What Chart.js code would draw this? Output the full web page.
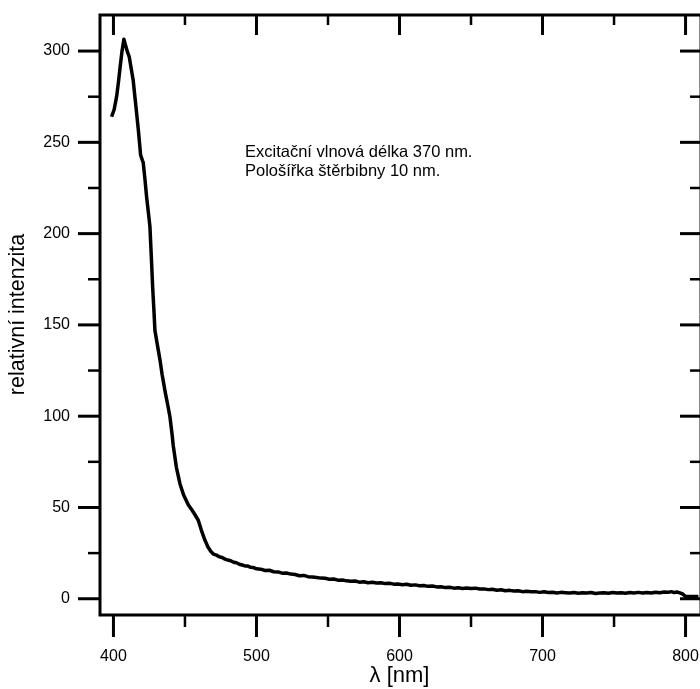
<!DOCTYPE html>
<html>
<head>
<meta charset="utf-8">
<script src="https://cdn.jsdelivr.net/npm/chart.js@4/dist/chart.umd.min.js"></script>
<style>
  html, body { margin: 0; padding: 0; background: #fff; }
  canvas { display: block; }
</style>
</head>
<body>
<canvas id="c" width="700" height="689"></canvas>
<script>
// ---- data ----
const wavelength = [
  398.7, 400.5, 402.2, 403.5, 404.5, 406, 407.3, 408.5, 410, 411, 412.5, 413.8, 415, 416.2, 417.5, 419,
  420.3, 420.8, 422, 423.2, 424.5, 425.5, 426.5, 427.4, 428.3, 429, 430.5, 432.5, 434, 436, 438, 439.5,
  441, 441.8, 444, 446.5, 449, 452.3, 455, 457, 459.3, 461.5, 464, 466, 468,
  470, 472, 474, 476, 478, 480, 482, 484, 486, 488, 490, 492, 494, 496, 498, 500,
  503, 506, 509, 512, 515, 518, 521, 524, 527, 530, 533, 536, 539, 542, 545, 548,
  551, 554, 557, 560, 563, 566, 569, 572, 575, 578, 581, 584, 587, 590, 593, 596,
  599, 602, 605, 608, 611, 614, 617, 620, 623, 626, 629, 632, 635, 638, 641, 644,
  647, 650, 653, 656, 659, 662, 665, 668, 671, 674, 677, 680, 683, 686, 689, 692,
  695, 698, 701, 704, 707, 710, 713, 716, 719, 722, 725, 728, 731, 734, 737, 740,
  743, 746, 749, 752, 755, 758, 761, 764, 767, 770, 773, 776, 779, 782, 785, 788,
  790, 792, 794, 796, 798, 800, 804, 809
];
const intensity = [
  264, 268, 275, 283, 290, 300, 306.5, 303, 299, 297, 290, 284, 275, 266, 256, 243,
  240, 239, 230, 220, 211, 204, 187, 171, 158, 147, 140, 131, 123, 114, 106, 99.7,
  90, 84, 72, 63, 57, 51.5, 48.5, 46, 43, 37.5, 32, 28.5, 26,
  24.4, 23.9, 23.0, 22.6, 21.7, 21.2, 20.8, 20.0, 19.7, 18.9, 18.5, 18.0, 17.9, 17.2, 17.1, 16.4,
  16.2, 15.5, 15.6, 14.8, 14.7, 14.0, 14.1, 13.5, 13.3, 12.6, 12.8, 12.1, 11.9, 11.6, 11.3, 11.2,
  10.7, 10.8, 10.2, 10.3, 9.8, 9.6, 9.7, 9.1, 9.3, 8.8, 9.0, 8.6, 8.8, 8.3, 8.5, 8.0,
  8.1, 7.7, 7.9, 7.4, 7.6, 7.1, 7.3, 6.8, 7.0, 6.5, 6.6, 6.1, 6.3, 5.8, 6.0, 5.6,
  5.9, 5.6, 5.8, 5.3, 5.4, 5.0, 5.2, 4.7, 4.9, 4.4, 4.6, 4.2, 4.4, 3.9, 4.1, 3.8,
  3.9, 3.5, 3.8, 3.4, 3.6, 3.2, 3.5, 3.3, 3.1, 3.4, 3.0, 3.3, 3.1, 3.4, 2.9, 3.2,
  3.3, 3.0, 3.4, 3.1, 3.3, 3.0, 3.4, 3.2, 3.5, 3.1, 3.4, 3.2, 3.6, 3.3, 3.7, 3.5,
  3.9, 3.4, 3.7, 3.2, 2.6, 1.2, 1.2, 1.2
];
const xMajorTicks = [400, 500, 600, 700, 800];
const xMinorTicks = [450, 550, 650, 750];
const yMajorTicks = [0, 50, 100, 150, 200, 250, 300];
const yMinorTicks = [25, 75, 125, 175, 225, 275];
const xTitle = 'λ [nm]';
const yTitle = 'relativní intenzita';
const noteLines = ['Excitační vlnová délka 370 nm.', 'Pološířka štěrbibny 10 nm.'];

const FONT = '"Liberation Sans", Arial, sans-serif';

const points = wavelength.map((w, i) => ({ x: w, y: intensity[i] }));

const zeroPad = s => { s.paddingTop = 0; s.paddingBottom = 0; s.paddingLeft = 0; s.paddingRight = 0; };

const frameTicks = {
  id: 'frameTicks',
  afterDraw(chart) {
    const { ctx, chartArea: a, scales: { x, y } } = chart;
    ctx.save();
    ctx.lineCap = 'butt';
    ctx.strokeStyle = '#8a8a8a';
    ctx.lineWidth = 1;
    ctx.beginPath();
    ctx.moveTo(a.right + 0.5, a.top);
    ctx.lineTo(a.right + 0.5, a.bottom);
    ctx.stroke();
    ctx.strokeStyle = '#000';
    ctx.lineWidth = 3;
    ctx.beginPath();
    ctx.moveTo(a.left, a.top + 1); ctx.lineTo(a.right + 1, a.top + 1);
    ctx.moveTo(a.left, a.top - 0.5); ctx.lineTo(a.left, a.bottom + 1.5);
    ctx.moveTo(a.left - 1.5, a.bottom); ctx.lineTo(a.right + 1, a.bottom);
    ctx.stroke();
    const tick = (x1, y1, x2, y2, w) => { ctx.lineWidth = w; ctx.beginPath(); ctx.moveTo(x1, y1); ctx.lineTo(x2, y2); ctx.stroke(); };
    xMajorTicks.forEach(v => {
      const px = x.getPixelForValue(v);
      tick(px, a.bottom, px, a.bottom + 22, 3);
      tick(px, a.top, px, a.top + 21, 3);
    });
    xMinorTicks.forEach(v => {
      const px = x.getPixelForValue(v);
      tick(px, a.bottom, px, a.bottom + 12, 2.5);
      tick(px, a.top, px, a.top + 11, 2.5);
    });
    yMajorTicks.forEach(v => {
      const py = y.getPixelForValue(v);
      tick(a.left - 22, py, a.left, py, 3);
      tick(a.right - 19, py, a.right + 1, py, 3);
    });
    yMinorTicks.forEach(v => {
      const py = y.getPixelForValue(v);
      tick(a.left - 12, py, a.left, py, 2.5);
      tick(a.right - 9, py, a.right + 1, py, 2.5);
    });
    ctx.fillStyle = '#000';
    ctx.font = '16.5px ' + FONT;
    ctx.textAlign = 'left';
    ctx.textBaseline = 'middle';
    noteLines.forEach((t, i) => ctx.fillText(t, a.left + 145, a.top + 138 + i * 19));
    ctx.restore();
  }
};

new Chart(document.getElementById('c'), {
  type: 'scatter',
  data: {
    datasets: [{
      data: points,
      showLine: true,
      borderColor: '#000',
      backgroundColor: '#000',
      borderWidth: 3.5,
      pointRadius: 0,
      tension: 0,
      borderJoinStyle: 'round'
    }]
  },
  options: {
    responsive: false,
    animation: false,
    devicePixelRatio: 1,
    layout: { padding: { top: 14, right: 1, left: 0, bottom: 0 } },
    plugins: { legend: { display: false }, tooltip: { enabled: false } },
    scales: {
      x: {
        type: 'linear',
        position: 'bottom',
        min: 390.6,
        max: 809.4,
        grid: { display: false, drawTicks: false },
        border: { display: false },
        ticks: {
          stepSize: 100,
          includeBounds: false,
          autoSkip: false,
          maxRotation: 0,
          color: '#000',
          padding: 32,
          font: { family: FONT, size: 16 },
          callback: v => xMajorTicks.includes(v) ? String(v) : ''
        },
        title: {
          display: true,
          text: xTitle,
          color: '#000',
          font: { family: FONT, size: 22, lineHeight: 1.2 },
          padding: { top: 0, bottom: 0 }
        },
        afterFit: s => { s.height = 74; zeroPad(s); }
      },
      y: {
        type: 'linear',
        min: -8.9,
        max: 320.3,
        grid: { display: false, drawTicks: false },
        border: { display: false },
        ticks: {
          stepSize: 50,
          includeBounds: false,
          autoSkip: false,
          color: '#000',
          padding: 30,
          font: { family: FONT, size: 16 },
          callback: v => yMajorTicks.includes(v) ? String(v) : ''
        },
        title: {
          display: true,
          text: yTitle,
          color: '#000',
          font: { family: FONT, size: 21.5, lineHeight: 1.2 },
          padding: { top: 5, bottom: 0 }
        },
        afterFit: s => { s.width = 100; zeroPad(s); }
      }
    }
  },
  plugins: [frameTicks]
});
</script>
</body>
</html>
